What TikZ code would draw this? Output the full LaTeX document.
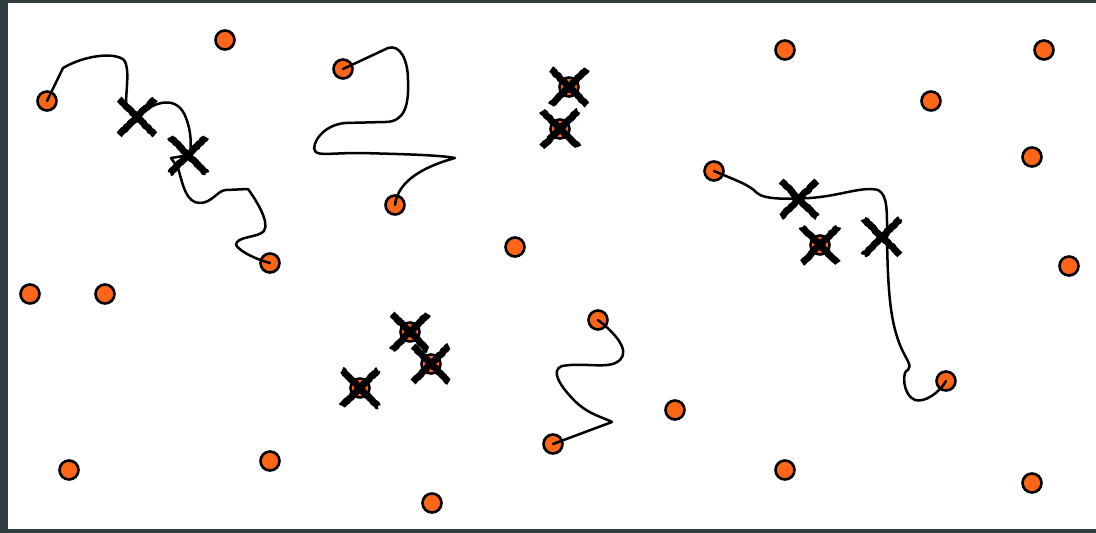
\documentclass[tikz,border=0pt]{standalone}
\usepackage{xcolor}
\usepackage{tikz}
\usetikzlibrary{shapes.misc, decorations.pathmorphing}

\definecolor{frameslate}{RGB}{46,61,61}
\definecolor{dotorange}{RGB}{255,102,24}

\begin{document}
\begin{tikzpicture}[
  x=1pt, y=-1pt,
  dot/.style   = {circle, draw=black, fill=dotorange, line width=2.6pt,
                  minimum size=19pt, inner sep=0pt},
  xmark/.style = {cross out, draw=black, line width=6.8pt,
                  line join=round, line cap=butt,
                  minimum size=29pt, inner sep=0pt,
                  decorate, decoration={random steps, segment length=1.5pt,
                  amplitude=0.7pt}},
  trail/.style = {draw=black, line width=2.5pt, line join=round,
                  line cap=round},
]

\useasboundingbox (0,0) rectangle (1096,533);
\clip (0,0) rectangle (1096,533);

%% frame
\draw[frameslate, line width=8pt] (4,-1) rectangle (1104,533);

%% the dots
\foreach \n/\x/\y in {1/47/101, 2/225/40, 3/270/263, 4/30/294, 5/105/294,
                      6/69/470, 7/270/461, 8/432/503, 9/343/69, 10/395/205,
                      11/515/247, 12/569/87, 13/560/129, 14/410/332,
                      15/431/364, 16/360/388, 17/598/320, 18/553/444,
                      19/675/410, 20/785/50, 21/931/101, 22/714/171,
                      23/820/245, 24/946/381, 25/785/470, 26/1044/50,
                      27/1032/157, 28/1069/266, 29/1032/483}{
  \node[dot] (d\n) at (\x,\y) {};
}

%% wandering trails between dot pairs
\draw[trail] (d1.center) -- (63,68) .. controls (85,55) and (115,52) .. (124,60)
  .. controls (130,68) and (126,90) .. (126,104) -- (137,117)
  .. controls (155,100) and (178,95) .. (186,118)
  .. controls (192,133) and (191,148) .. (190,155) -- (171,158) -- (178,168)
  .. controls (183,185) and (186,203) .. (200,203)
  .. controls (212,203) and (218,190) .. (226,190) -- (248,189)
  .. controls (256,200) and (270,222) .. (264,231)
  .. controls (258,238) and (236,236) .. (236,245)
  .. controls (240,252) and (258,260) .. (d3.center);

\draw[trail] (d9.center) -- (388,48) .. controls (400,44) and (408,60) .. (408,80)
  .. controls (409,105) and (405,122) .. (385,122) -- (345,123)
  .. controls (322,125) and (311,145) .. (315,151)
  .. controls (318,156) and (330,153) .. (360,153)
  .. controls (400,154) and (440,155) .. (455,158)
  .. controls (430,165) and (398,178) .. (d10.center);

\draw[trail] (d17.center) .. controls (615,333) and (630,350) .. (620,360)
  .. controls (610,370) and (585,362) .. (562,366)
  .. controls (550,370) and (560,387) .. (577,403)
  .. controls (590,415) and (605,418) .. (612,422) -- (d18.center);

\draw[trail] (d22.center) .. controls (735,180) and (750,185) .. (757,193)
  .. controls (765,200) and (790,199) .. (810,198)
  .. controls (840,196) and (862,186) .. (878,190)
  .. controls (888,195) and (887,212) .. (887,240)
  .. controls (888,290) and (890,320) .. (900,345)
  .. controls (905,358) and (913,366) .. (908,370)
  .. controls (902,370) and (902,395) .. (915,400)
  .. controls (925,403) and (940,392) .. (d24.center);

%% crosses on dots
\foreach \n in {12, 13, 14, 15, 16, 23}{
  \node[xmark] (x\n) at (d\n) {};
}

%% crosses on their own
\foreach \n/\x/\y in {a/137/117, b/188/155, c/799/199, d/882/237}{
  \node[xmark] (x\n) at (\x,\y) {};
}

\end{tikzpicture}
\end{document}
